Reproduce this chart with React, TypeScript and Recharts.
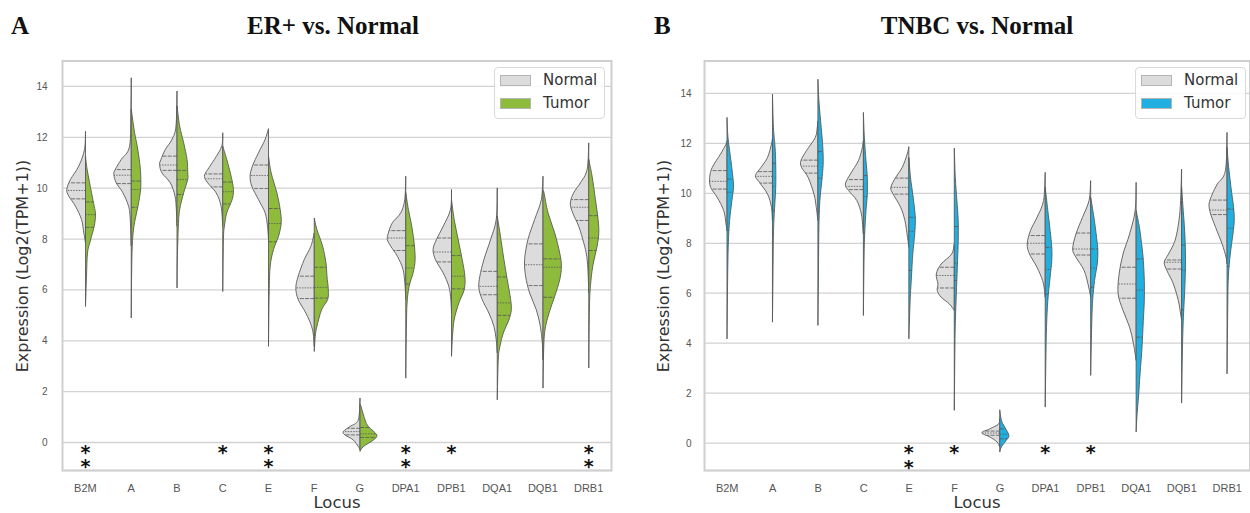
import {
  BarChart,
  Bar,
  XAxis,
  YAxis,
  CartesianGrid,
  ReferenceArea,
  Legend,
} from "recharts";

// [value, relative density] pairs from top to bottom, plus quartiles [q3, median, q1]
type Half = { pts: number[][]; q: number[] };

const LOCI = ["B2M", "A", "B", "C", "E", "F", "G", "DPA1", "DPB1", "DQA1", "DQB1", "DRB1"];
const Y_TICKS = [0, 2, 4, 6, 8, 10, 12, 14];

const ER_NORMAL: Half[] = [
  { pts: [[12.24, 0], [11.52, 3], [10.87, 20], [10.34, 45], [9.95, 56], [9.69, 50], [9.29, 30], [8.77, 12], [8.24, 5], [7.85, 0]], q: [10.21, 9.91, 9.58] },
  { pts: [[14.34, 0], [13.1, 1], [11.65, 5], [11.13, 30], [10.73, 48], [10.54, 52], [10.21, 45], [9.82, 25], [9.29, 8], [8.77, 3], [7.72, 0]], q: [10.73, 10.51, 10.18] },
  { pts: [[13.82, 0], [12.44, 3], [11.92, 15], [11.52, 35], [11.13, 48], [10.93, 52], [10.6, 45], [10.21, 20], [9.69, 6], [9.16, 2], [8.5, 0]], q: [11.26, 10.91, 10.7] },
  { pts: [[12.18, 0], [11.65, 3], [11.13, 25], [10.73, 45], [10.47, 55], [10.21, 45], [9.82, 20], [9.29, 5], [8.5, 0]], q: [10.56, 10.37, 10.05] },
  { pts: [[12.34, 0], [11.92, 10], [11.39, 30], [10.87, 48], [10.47, 55], [10.08, 50], [9.55, 30], [9.03, 10], [8.5, 3], [7.98, 0]], q: [10.91, 10.5, 9.99] },
  { pts: [[8.24, 0], [7.72, 10], [7.19, 30], [6.54, 48], [6.08, 55], [5.62, 48], [5.09, 25], [4.57, 8], [4.17, 2], [3.78, 0]], q: [6.54, 6.08, 5.66] },
  { pts: [[1.75, 0], [0.89, 5], [0.63, 30], [0.43, 50], [0.3, 45], [0.1, 20], [-0.16, 5], [-0.29, 0]], q: [0.56, 0.43, 0.3] },
  { pts: [[10.47, 0], [9.55, 3], [9.03, 15], [8.64, 40], [8.24, 52], [7.98, 55], [7.72, 45], [7.32, 25], [6.8, 8], [6.14, 2], [5.62, 0]], q: [8.33, 8.04, 7.55] },
  { pts: [[9.95, 0], [9.16, 3], [8.5, 25], [7.98, 45], [7.59, 55], [7.19, 48], [6.67, 25], [6.14, 8], [5.62, 2], [5.09, 0]], q: [8.04, 7.49, 7.1] },
  { pts: [[10.01, 0], [8.77, 3], [7.98, 20], [7.19, 40], [6.54, 52], [6.08, 55], [5.62, 45], [5.09, 25], [4.57, 10], [4.04, 3], [3.52, 0]], q: [6.73, 6.14, 5.81] },
  { pts: [[10.47, 0], [9.55, 5], [8.77, 25], [7.98, 45], [7.19, 55], [6.54, 52], [5.88, 40], [5.22, 20], [4.57, 8], [3.91, 2], [3.25, 0]], q: [7.81, 6.99, 6.17] },
  { pts: [[11.78, 0], [10.73, 5], [10.21, 25], [9.82, 45], [9.42, 55], [9.03, 48], [8.5, 30], [7.85, 15], [7.32, 6], [6.67, 2], [5.88, 0]], q: [9.55, 9.25, 8.73] },
];

const ER_TUMOR: Half[] = [
  { pts: [[11.26, 0], [10.73, 5], [9.82, 18], [9.29, 26], [8.96, 30], [8.5, 26], [7.91, 14], [7.45, 6], [6.54, 3], [5.35, 0]], q: [9.46, 8.96, 8.46] },
  { pts: [[13.1, 0], [12.18, 10], [11.65, 18], [11.13, 24], [10.6, 28], [9.95, 28], [9.29, 20], [8.5, 8], [7.72, 3], [6.54, 1], [4.9, 0]], q: [10.28, 9.95, 9.25] },
  { pts: [[13.23, 0], [12.44, 8], [11.78, 20], [11.13, 30], [10.6, 32], [10.34, 32], [9.82, 20], [9.16, 8], [8.5, 4], [7.19, 1], [6.08, 0]], q: [10.7, 10.34, 9.75] },
  { pts: [[11.65, 0], [11.13, 12], [10.47, 25], [9.95, 32], [9.55, 28], [9.03, 12], [8.5, 5], [7.98, 2], [5.94, 0]], q: [10.24, 9.86, 9.38] },
  { pts: [[11.26, 0], [10.6, 8], [9.82, 25], [9.16, 35], [8.64, 38], [8.11, 30], [7.59, 15], [6.93, 5], [5.88, 2], [3.78, 0]], q: [9.2, 8.61, 7.89] },
  { pts: [[8.83, 0], [8.37, 8], [7.72, 25], [7.06, 35], [6.54, 38], [6.01, 42], [5.62, 40], [5.22, 22], [4.57, 8], [4.17, 3], [3.58, 0]], q: [6.89, 6.1, 5.68] },
  { pts: [[1.5, 0], [1.42, 3], [0.89, 15], [0.63, 25], [0.3, 50], [0.1, 40], [-0.16, 10], [-0.35, 0]], q: [0.59, 0.34, 0.2] },
  { pts: [[9.82, 0], [9.16, 8], [8.5, 18], [7.85, 25], [7.19, 28], [6.67, 22], [6.14, 10], [5.49, 4], [4.57, 2], [2.53, 0]], q: [7.74, 6.86, 6.23] },
  { pts: [[9.55, 0], [8.77, 8], [7.98, 20], [7.19, 32], [6.54, 40], [6.01, 38], [5.49, 22], [4.83, 8], [4.17, 3], [3.39, 0]], q: [7.35, 6.54, 6.04] },
  { pts: [[8.9, 0], [8.24, 8], [7.19, 20], [6.4, 30], [5.62, 40], [5.22, 42], [4.83, 35], [4.3, 18], [3.78, 8], [3.25, 3], [1.68, 0]], q: [6.51, 5.49, 5.0] },
  { pts: [[9.9, 0], [9.82, 3], [9.03, 15], [8.24, 35], [7.45, 50], [6.93, 55], [6.4, 50], [5.75, 35], [5.09, 18], [4.44, 6], [3.65, 2], [2.14, 0]], q: [7.22, 6.89, 5.71] },
  { pts: [[11.13, 0], [10.47, 10], [9.55, 20], [8.77, 28], [8.24, 30], [7.72, 25], [6.93, 12], [6.14, 5], [5.22, 2], [2.93, 0]], q: [8.92, 8.04, 7.55] },
];

const TNBC_NORMAL: Half[] = [
  { pts: [[12.1, 0], [11.97, 3], [11.57, 20], [11.04, 45], [10.64, 53], [10.24, 50], [9.84, 30], [9.31, 10], [8.77, 3], [8.51, 0]], q: [10.91, 10.48, 10.17] },
  { pts: [[12.2, 0], [11.97, 3], [11.44, 15], [11.04, 35], [10.71, 52], [10.44, 40], [9.97, 15], [9.44, 3], [8.91, 0]], q: [10.87, 10.68, 10.41] },
  { pts: [[12.9, 0], [12.64, 2], [12.24, 8], [11.71, 35], [11.31, 52], [11.04, 50], [10.64, 30], [9.97, 12], [9.44, 5], [8.91, 0]], q: [11.33, 11.09, 10.81] },
  { pts: [[12.1, 0], [11.84, 3], [11.31, 15], [10.77, 40], [10.37, 55], [10.11, 45], [9.71, 20], [9.17, 6], [8.64, 2], [8.37, 0]], q: [10.55, 10.28, 10.15] },
  { pts: [[11.87, 0], [11.57, 5], [11.04, 20], [10.64, 40], [10.24, 55], [9.97, 48], [9.44, 25], [8.91, 12], [8.24, 4], [7.84, 0]], q: [10.61, 10.24, 9.97] },
  { pts: [[7.97, 0], [7.57, 8], [7.17, 40], [6.77, 55], [6.37, 50], [6.11, 52], [5.84, 40], [5.57, 15], [5.31, 0]], q: [7.04, 6.71, 6.21] },
  { pts: [[1.0, 0], [0.77, 3], [0.57, 30], [0.41, 55], [0.24, 30], [0.04, 8], [-0.16, 0]], q: [0.48, 0.4, 0.31] },
  { pts: [[10.84, 0], [9.71, 5], [9.04, 25], [8.51, 45], [7.97, 55], [7.57, 48], [7.04, 25], [6.51, 8], [6.11, 2], [5.84, 0]], q: [8.31, 8.0, 7.57] },
  { pts: [[10.51, 0], [9.71, 5], [9.04, 25], [8.37, 45], [7.77, 55], [7.44, 45], [6.91, 20], [6.24, 6], [5.84, 0]], q: [8.41, 7.77, 7.53] },
  { pts: [[10.44, 0], [9.31, 3], [8.37, 20], [7.57, 40], [6.77, 52], [5.97, 55], [5.31, 40], [4.64, 20], [3.97, 8], [3.31, 0]], q: [7.04, 6.37, 5.8] },
  { pts: [[10.97, 0], [9.71, 3], [8.91, 8], [8.11, 20], [7.57, 40], [7.24, 53], [6.91, 45], [6.37, 25], [5.71, 10], [5.17, 3], [4.91, 0]], q: [7.33, 7.24, 6.97] },
  { pts: [[12.44, 0], [10.91, 5], [10.37, 30], [9.97, 45], [9.57, 55], [9.17, 50], [8.64, 35], [7.97, 15], [7.44, 3], [7.17, 0]], q: [9.73, 9.33, 9.15] },
];

const TNBC_TUMOR: Half[] = [
  { pts: [[13.04, 0], [12.24, 3], [11.31, 12], [10.64, 18], [10.24, 20], [9.71, 15], [8.91, 8], [7.97, 4], [6.64, 2], [4.17, 0]], q: [10.57, 10.04, 8.51] },
  { pts: [[13.97, 0], [12.64, 3], [11.84, 8], [11.17, 10], [10.24, 10], [9.31, 6], [8.37, 3], [6.64, 1.5], [4.84, 0]], q: [11.2, 10.27, 9.31] },
  { pts: [[14.57, 0], [13.71, 3], [12.64, 10], [11.84, 15], [11.17, 16], [10.51, 12], [9.71, 6], [8.64, 3], [6.64, 1.5], [4.71, 0]], q: [11.67, 10.6, 9.27] },
  { pts: [[13.24, 0], [12.24, 3], [11.31, 8], [10.64, 12], [9.97, 12], [9.31, 8], [8.37, 4], [7.31, 2], [5.11, 0]], q: [10.71, 9.87, 8.44] },
  { pts: [[11.44, 0], [10.64, 5], [9.97, 12], [9.31, 18], [8.91, 20], [8.37, 18], [7.57, 12], [6.64, 8], [5.71, 4], [4.17, 0]], q: [9.04, 8.48, 6.91] },
  { pts: [[11.81, 0], [10.64, 3], [9.71, 8], [8.91, 12], [8.11, 12], [7.31, 10], [6.24, 7], [5.17, 4], [3.97, 2], [1.31, 0]], q: [8.67, 7.2, 6.51] },
  { pts: [[1.33, 0], [0.91, 5], [0.64, 15], [0.31, 28], [0.11, 20], [-0.16, 5], [-0.36, 0]], q: [0.57, 0.35, 0.17] },
  { pts: [[10.24, 0], [9.31, 8], [8.51, 15], [7.84, 20], [7.31, 20], [6.64, 15], [5.71, 8], [4.64, 4], [3.31, 2], [1.44, 0]], q: [7.84, 6.95, 5.97] },
  { pts: [[9.84, 0], [9.04, 10], [8.24, 18], [7.71, 22], [7.17, 20], [6.51, 12], [5.71, 6], [4.64, 3], [2.71, 0]], q: [7.77, 7.01, 6.24] },
  { pts: [[9.31, 0], [8.64, 10], [7.84, 18], [7.31, 22], [6.51, 25], [5.71, 25], [4.91, 22], [3.84, 18], [2.77, 12], [1.97, 8], [1.17, 3], [0.44, 0]], q: [7.37, 6.13, 4.24] },
  { pts: [[10.24, 0], [9.31, 5], [8.37, 10], [7.31, 12], [6.24, 10], [5.17, 6], [3.97, 3], [1.6, 0]], q: [7.93, 6.93, 5.33] },
  { pts: [[11.84, 0], [11.04, 5], [10.24, 12], [9.44, 20], [8.91, 22], [8.37, 18], [7.57, 10], [6.64, 4], [5.31, 2], [2.77, 0]], q: [9.37, 8.6, 7.07] },
];

// number of significance asterisks under each locus
const ER_STARS = [2, 0, 0, 1, 2, 0, 0, 2, 1, 0, 0, 2];
const TNBC_STARS = [0, 0, 0, 0, 2, 1, 0, 1, 1, 0, 0, 0];
const STAR_TOP = -0.22;
const STAR_STEP = 0.58;

const NORMAL_COLOR = "#dcdcdc";
const ER_COLOR = "#8fbb3d";
const TNBC_COLOR = "#1fafe0";
const EDGE = "#595959";
const DMAX = 55;
const FONT = "'DejaVu Sans', sans-serif";
const NARROW = "'Liberation Sans Narrow', 'Liberation Sans', sans-serif";

function buildRows(normal: Half[], tumor: Half[], stars: number[]) {
  return LOCI.map((locus, i) => {
    const vals = [...normal[i].pts, ...tumor[i].pts].map((p) => p[0]);
    return {
      locus,
      normal: normal[i],
      tumor: tumor[i],
      stars: stars[i],
      range: [Math.min(...vals), Math.max(...vals)],
    };
  });
}

function densityAt(pts: number[][], v: number) {
  for (let i = 0; i < pts.length - 1; i++) {
    const [v0, d0] = pts[i];
    const [v1, d1] = pts[i + 1];
    if (v <= v0 && v >= v1) return d0 + ((v0 - v) / (v0 - v1)) * (d1 - d0);
  }
  return 0;
}

function smooth(p: number[][]) {
  let d = `M${p[0][0]},${p[0][1]}`;
  for (let i = 0; i < p.length - 1; i++) {
    const p0 = p[i - 1] || p[i];
    const p1 = p[i];
    const p2 = p[i + 1];
    const p3 = p[i + 2] || p2;
    const c1x = p1[0] + (p2[0] - p0[0]) / 6;
    const c1y = p1[1] + (p2[1] - p0[1]) / 6;
    const c2x = p2[0] - (p3[0] - p1[0]) / 6;
    const c2y = p2[1] - (p3[1] - p1[1]) / 6;
    d += ` C${c1x},${c1y} ${c2x},${c2y} ${p2[0]},${p2[1]}`;
  }
  return d + " Z";
}

function HalfViolin({ half, cx, side, hw, py, fill }: any) {
  const h = half as Half;
  const pts = h.pts.map(([v, d]) => [cx + side * (d / DMAX) * hw, py(v)]);
  pts[0][0] = cx;
  pts[pts.length - 1][0] = cx;
  return (
    <g>
      <path d={smooth(pts)} fill={fill} stroke={EDGE} strokeWidth={0.9} strokeLinejoin="round" />
      {h.q.map((q, k) => (
        <line
          key={k}
          x1={cx}
          x2={cx + side * (densityAt(h.pts, q) / DMAX) * hw}
          y1={py(q)}
          y2={py(q)}
          stroke="#555"
          strokeWidth={0.8}
          strokeDasharray={k === 1 ? "1.5 1.2" : "4 1.2"}
        />
      ))}
    </g>
  );
}

function violinShape(tumorColor: string) {
  return (props: any) => {
    const { x, y, width, height, payload } = props;
    const [lo, hi] = payload.range;
    const py = (v: number) => y + ((hi - v) / (hi - lo)) * height;
    const cx = x + width / 2;
    const hw = width * 0.4;
    const step = py(STAR_TOP - STAR_STEP) - py(STAR_TOP);
    return (
      <g>
        <HalfViolin half={payload.normal} cx={cx} side={-1} hw={hw} py={py} fill={NORMAL_COLOR} />
        <HalfViolin half={payload.tumor} cx={cx} side={1} hw={hw} py={py} fill={tumorColor} />
        {payload.stars > 0 && (
          <text
            x={cx}
            y={py(STAR_TOP) + 10.5}
            textAnchor="middle"
            fontFamily={FONT}
            fontWeight="bold"
            fontSize={19}
            fill="#111"
          >
            {Array.from({ length: payload.stars }, (_, k) => (
              <tspan key={k} x={cx} dy={k === 0 ? 0 : step}>
                *
              </tspan>
            ))}
          </text>
        )}
      </g>
    );
  };
}

function LegendBox({ tumorColor }: { tumorColor: string }) {
  const items = [
    { name: "Normal", color: NORMAL_COLOR, top: 7 },
    { name: "Tumor", color: tumorColor, top: 30 },
  ];
  return (
    <div
      style={{
        position: "relative",
        width: 111,
        height: 52,
        boxSizing: "border-box",
        border: "1px solid #d9d9d9",
        borderRadius: 4,
        background: "rgba(255,255,255,0.85)",
        fontFamily: FONT,
        fontSize: 15,
        color: "#333",
      }}
    >
      {items.map((it) => (
        <div key={it.name}>
          <div
            style={{
              position: "absolute",
              left: 5,
              top: it.top,
              width: 31,
              height: 11,
              boxSizing: "border-box",
              background: it.color,
              border: "1px solid #b5b5b5",
            }}
          />
          <span style={{ position: "absolute", left: 48, top: it.top - 5, lineHeight: "20px" }}>{it.name}</span>
        </div>
      ))}
    </div>
  );
}

function Panel({ rows, tumorColor, domain, left, marginLeft, marginRight, tickGap, legendLeft }: any) {
  return (
    <div style={{ position: "absolute", left, top: 0 }}>
      <BarChart
        width={625}
        height={513}
        data={rows}
        margin={{ top: 61, right: marginRight, bottom: 12.5, left: marginLeft }}
        barCategoryGap={0}
      >
        <CartesianGrid vertical={false} stroke="#d2d2d2" strokeWidth={1.3} />
        <XAxis
          dataKey="locus"
          height={30}
          axisLine={false}
          tickLine={false}
          tickSize={0}
          tickMargin={14}
          interval={0}
          tick={{ fontSize: 11, fill: "#555", fontFamily: NARROW }}
        />
        <YAxis
          type="number"
          domain={domain}
          ticks={Y_TICKS}
          width={30}
          axisLine={false}
          tickLine={false}
          tickSize={0}
          tickMargin={tickGap}
          tick={{ fontSize: 10, fill: "#555", fontFamily: NARROW }}
        />
        <ReferenceArea y1={domain[0]} y2={domain[1]} fill="none" stroke="#cfcfcf" strokeWidth={2} ifOverflow="visible" />
        <Legend
          layout="vertical"
          align="center"
          verticalAlign="middle"
          wrapperStyle={{ top: 67, left: legendLeft, width: 111, height: 52 }}
          content={() => <LegendBox tumorColor={tumorColor} />}
        />
        <Bar dataKey="range" isAnimationActive={false} shape={violinShape(tumorColor)} />
      </BarChart>
    </div>
  );
}

export default function App() {
  const erRows = buildRows(ER_NORMAL, ER_TUMOR, ER_STARS);
  const tnbcRows = buildRows(TNBC_NORMAL, TNBC_TUMOR, TNBC_STARS);
  const serif = "'Liberation Serif', 'Times New Roman', serif";
  return (
    <div style={{ position: "absolute", left: 0, top: 0, width: 1250, height: 513, background: "#fff", overflow: "hidden" }}>
      <Panel rows={erRows} tumorColor={ER_COLOR} domain={[-1.1, 15]} left={0} marginLeft={32.5} marginRight={13.5} tickGap={15} legendLeft={494} />
      <Panel rows={tnbcRows} tumorColor={TNBC_COLOR} domain={[-1.1, 15.3]} left={625} marginLeft={49.5} marginRight={0} tickGap={13} legendLeft={510} />
      <svg width={1250} height={513} style={{ position: "absolute", left: 0, top: 0, pointerEvents: "none" }}>
        <text x={11} y={34} fontFamily={serif} fontWeight="bold" fontSize={25} fill="#111">A</text>
        <text x={654} y={34} fontFamily={serif} fontWeight="bold" fontSize={25} fill="#111">B</text>
        <text x={333} y={34} textAnchor="middle" fontFamily={serif} fontWeight="bold" fontSize={25} fill="#111">ER+ vs. Normal</text>
        <text x={977} y={34} textAnchor="middle" fontFamily={serif} fontWeight="bold" fontSize={25} fill="#111">TNBC vs. Normal</text>
        <text x={22} y={266} transform="rotate(-90 22 266)" textAnchor="middle" dominantBaseline="central" fontFamily={FONT} fontSize={16} fill="#333">
          Expression (Log2(TPM+1))
        </text>
        <text x={663} y={266} transform="rotate(-90 663 266)" textAnchor="middle" dominantBaseline="central" fontFamily={FONT} fontSize={16} fill="#333">
          Expression (Log2(TPM+1))
        </text>
        <text x={337} y={508} textAnchor="middle" fontFamily={FONT} fontSize={16.5} fill="#333">Locus</text>
        <text x={977} y={508} textAnchor="middle" fontFamily={FONT} fontSize={16.5} fill="#333">Locus</text>
      </svg>
    </div>
  );
}
